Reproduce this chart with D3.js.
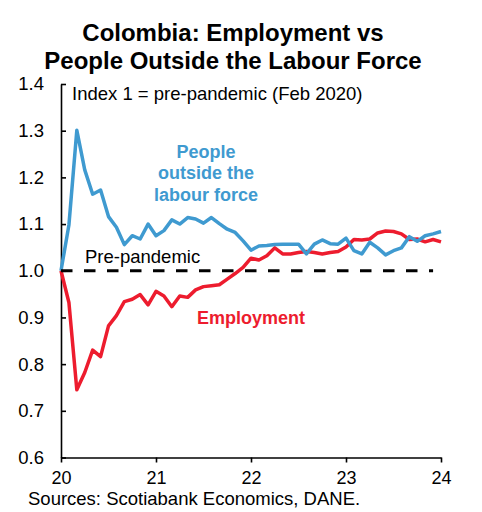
<!DOCTYPE html>
<html>
<head>
<meta charset="utf-8">
<script src="https://cdn.jsdelivr.net/npm/d3@7"></script>
<style>
  html, body { margin: 0; padding: 0; background: #fff; }
  svg { display: block; font-family: "Liberation Sans", Arial, sans-serif; }
</style>
</head>
<body>
<svg id="chart" width="482" height="512"></svg>
<script>
// Monthly index, Feb 2020 = 1, Jan 2020 through Jan 2024
const startYear = 2020;
const outsideLabourForce = [
  1.000, 1.098, 1.301, 1.216, 1.164, 1.173, 1.116, 1.093, 1.056, 1.075, 1.068, 1.100,
  1.075, 1.086, 1.109, 1.100, 1.114, 1.111, 1.102, 1.114, 1.101, 1.089, 1.082, 1.064,
  1.044, 1.053, 1.054, 1.056, 1.057, 1.057, 1.057, 1.036, 1.057, 1.066, 1.058, 1.057,
  1.070, 1.043, 1.036, 1.061, 1.049, 1.034, 1.043, 1.049, 1.073, 1.063, 1.075, 1.079,
  1.084
];
const employment = [
  1.000, 0.932, 0.745, 0.782, 0.830, 0.816, 0.882, 0.904, 0.934, 0.939, 0.949, 0.927,
  0.956, 0.946, 0.923, 0.946, 0.943, 0.959, 0.966, 0.968, 0.970, 0.982, 0.994, 1.007,
  1.027, 1.023, 1.032, 1.049, 1.036, 1.036, 1.039, 1.041, 1.039, 1.036, 1.039, 1.041,
  1.051, 1.067, 1.066, 1.068, 1.081, 1.085, 1.084, 1.079, 1.067, 1.068, 1.062, 1.067,
  1.062
];
const prePandemicLevel = 1.0;
const prePandemicSpan = [2020, 2023 + 11 / 12];
const xTicks = [2020, 2021, 2022, 2023, 2024];
const yTicks = [0.6, 0.7, 0.8, 0.9, 1.0, 1.1, 1.2, 1.3, 1.4];
const titleLines = ["Colombia: Employment vs", "People Outside the Labour Force"];
const outsideLabelLines = ["People", "outside the", "labour force"];

const BLUE = "#3F9AD0";
const RED = "#ED1C2E";

const svg = d3.select("#chart");

const x = d3.scaleLinear().domain([2020, 2024]).range([61, 441]);
const y = d3.scaleLinear().domain([0.6, 1.4]).range([457.5, 84]);

const toPoints = arr => arr.map((v, i) => ({ t: startYear + i / 12, v }));
const line = d3.line().x(d => x(d.t)).y(d => y(d.v));

// Title
svg.append("g")
  .selectAll("text")
  .data(titleLines)
  .join("text")
  .attr("x", 233)
  .attr("y", (d, i) => 41 + i * 28)
  .attr("text-anchor", "middle")
  .attr("font-size", 24)
  .attr("font-weight", "bold")
  .attr("fill", "#000")
  .text(d => d);

// Y axis, ticks pointing into the plot
const yAxis = d3.axisLeft(y)
  .tickValues(yTicks)
  .tickFormat(d3.format(".1f"))
  .tickSizeInner(-5)
  .tickSizeOuter(0)
  .tickPadding(17);
const gy = svg.append("g").attr("transform", "translate(61,0)").call(yAxis);
gy.select(".domain").attr("stroke", "#000").attr("stroke-width", 1.6);
gy.selectAll(".tick line").attr("stroke", "#000").attr("stroke-width", 1.6);
gy.selectAll(".tick text")
  .attr("font-size", 18.5)
  .attr("font-family", "Liberation Sans, Arial, sans-serif")
  .attr("fill", "#000");

// X axis, labelled by two-digit year
const xAxis = d3.axisBottom(x)
  .tickValues(xTicks)
  .tickFormat(d => String(d).slice(2))
  .tickSizeInner(5)
  .tickSizeOuter(0)
  .tickPadding(9);
const gx = svg.append("g").attr("transform", `translate(0,${y(0.6)})`).call(xAxis);
gx.select(".domain").attr("stroke", "#000").attr("stroke-width", 1.6);
gx.selectAll(".tick line").attr("stroke", "#000").attr("stroke-width", 1.6);
gx.selectAll(".tick text")
  .attr("font-size", 18)
  .attr("font-family", "Liberation Sans, Arial, sans-serif")
  .attr("fill", "#000");

// Series
svg.append("path")
  .datum(toPoints(employment))
  .attr("d", line)
  .attr("fill", "none")
  .attr("stroke", RED)
  .attr("stroke-width", 3.5)
  .attr("stroke-linejoin", "round");

svg.append("path")
  .datum(toPoints(outsideLabourForce))
  .attr("d", line)
  .attr("fill", "none")
  .attr("stroke", BLUE)
  .attr("stroke-width", 3.5)
  .attr("stroke-linejoin", "round");

// Pre-pandemic reference level
svg.append("path")
  .datum(prePandemicSpan.map(t => ({ t, v: prePandemicLevel })))
  .attr("d", line)
  .attr("fill", "none")
  .attr("stroke", "#000")
  .attr("stroke-width", 3)
  .attr("stroke-dasharray", "11.5,11.5");

// Annotations
svg.append("text")
  .attr("x", 72).attr("y", 100)
  .attr("font-size", 18.5)
  .attr("fill", "#000")
  .text("Index 1 = pre-pandemic (Feb 2020)");

svg.append("text")
  .attr("x", 85).attr("y", 263)
  .attr("font-size", 18.5)
  .attr("fill", "#000")
  .text("Pre-pandemic");

svg.append("g")
  .selectAll("text")
  .data(outsideLabelLines)
  .join("text")
  .attr("x", 206)
  .attr("y", (d, i) => 158 + i * 21.3)
  .attr("text-anchor", "middle")
  .attr("font-size", 18)
  .attr("font-weight", "bold")
  .attr("fill", BLUE)
  .text(d => d);

svg.append("text")
  .attr("x", 197).attr("y", 324)
  .attr("font-size", 18)
  .attr("font-weight", "bold")
  .attr("fill", RED)
  .text("Employment");

svg.append("text")
  .attr("x", 28).attr("y", 505)
  .attr("font-size", 18.5)
  .attr("fill", "#000")
  .text("Sources: Scotiabank Economics, DANE.");
</script>
</body>
</html>
